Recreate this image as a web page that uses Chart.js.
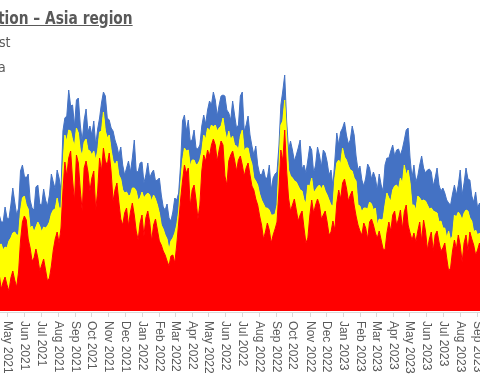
<!DOCTYPE html>
<html>
<head>
<meta charset="utf-8">
<script src="https://cdn.jsdelivr.net/npm/chart.js@4.4.1/dist/chart.umd.min.js"></script>
<style>
    html, body { margin: 0; padding: 0; background: #fff; overflow: hidden; }
    #wrap { position: relative; width: 480px; height: 384px; }
    .judul {
        position: absolute; left: -2px; top: 8px;
        font: bold 17px "Liberation Sans Narrow", "DejaVu Sans Condensed", sans-serif;
        color: #595959; text-decoration: underline; white-space: nowrap;
        transform: scaleX(0.9); transform-origin: left top;
    }
    .leg {
        position: absolute;
        font: 14px "Liberation Sans Narrow", "DejaVu Sans Condensed", sans-serif;
        color: #595959; white-space: nowrap;
    }
</style>
</head>
<body>
<div id="wrap">
    <canvas id="areaAsia"></canvas>
    <div class="judul">tion – Asia region</div>
    <div class="leg" style="left:-1px; top:34px;">st</div>
    <div class="leg" style="left:-2px; top:59px;">a</div>
</div>
<script>
// data per setengah minggu (3.5 hari), mulai 17 Apr 2021 (hari ke -14 dari 1 May 2021)
const redVals = [
    36, 22, 29, 34, 26, 20, 33, 40, 31, 24,
    39, 70, 89, 95, 91, 72, 63, 50, 53, 62,
    53, 40, 46, 52, 41, 30, 33, 45, 61, 72,
    79, 68, 83, 120, 149, 135, 153, 160, 131, 110,
    156, 148, 121, 100, 143, 150, 139, 120, 133, 140,
    101, 120, 153, 140, 163, 150, 146, 158, 139, 110,
    121, 128, 109, 92, 86, 98, 103, 85, 99, 108,
    96, 80, 71, 88, 96, 75, 93, 100, 89, 70,
    86, 92, 81, 70, 66, 60, 56, 50, 45, 55,
    56, 48, 66, 88, 111, 130, 146, 138, 143, 105,
    121, 126, 111, 92, 106, 140, 156, 150, 161, 155,
    166, 172, 166, 150, 161, 170, 166, 135, 126, 150,
    156, 160, 151, 140, 151, 155, 146, 135, 143, 148,
    136, 125, 121, 112, 106, 95, 86, 72, 79, 88,
    81, 68, 76, 82, 89, 120, 161, 150, 181, 140,
    113, 100, 106, 112, 101, 90, 96, 100, 83, 68,
    73, 95, 111, 98, 106, 112, 106, 92, 96, 100,
    89, 76, 79, 90, 81, 108, 121, 112, 128, 132,
    123, 110, 116, 120, 106, 95, 86, 80, 76, 88,
    83, 72, 89, 92, 86, 78, 73, 80, 71, 62,
    61, 78, 89, 80, 96, 100, 86, 92, 101, 82,
    99, 106, 86, 78, 71, 78, 69, 80, 89, 70,
    91, 80, 61, 72, 79, 60, 76, 80, 69, 60,
    63, 68, 53, 40, 43, 60, 71, 62, 76, 66,
    49, 68, 76, 60, 79, 72, 66, 56, 61, 68,
    63
];
const yellowVals = [
    30, 45, 32, 30, 37, 50, 40, 38, 48, 52,
    37, 30, 24, 20, 15, 30, 20, 35, 26, 22,
    36, 45, 33, 32, 42, 55, 56, 52, 40, 30,
    34, 35, 20, 25, 27, 35, 28, 20, 40, 55,
    27, 30, 40, 55, 26, 22, 22, 40, 23, 20,
    50, 40, 26, 40, 36, 30, 27, 18, 22, 40,
    25, 22, 27, 40, 35, 20, 16, 30, 17, 15,
    27, 40, 40, 25, 23, 38, 23, 18, 27, 40,
    30, 20, 25, 28, 20, 22, 20, 22, 16, 15,
    17, 30, 20, 12, 15, 20, 17, 22, 18, 40,
    30, 25, 35, 55, 45, 20, 20, 22, 22, 25,
    20, 12, 20, 30, 22, 15, 27, 45, 45, 30,
    15, 15, 15, 25, 10, 20, 35, 25, 20, 15,
    17, 22, 12, 18, 20, 22, 25, 35, 24, 15,
    20, 28, 20, 15, 17, 25, 25, 40, 30, 35,
    28, 35, 27, 18, 28, 35, 25, 20, 28, 40,
    53, 30, 22, 20, 15, 12, 20, 30, 30, 20,
    27, 35, 27, 15, 52, 40, 30, 35, 35, 22,
    28, 35, 25, 20, 27, 35, 20, 25, 23, 15,
    20, 30, 20, 15, 15, 25, 13, 12, 20, 30,
    45, 40, 24, 30, 25, 25, 40, 30, 32, 45,
    47, 30, 55, 50, 35, 28, 32, 35, 24, 40,
    20, 30, 45, 30, 24, 40, 23, 18, 20, 30,
    20, 15, 20, 40, 28, 15, 25, 32, 23, 30,
    42, 30, 25, 40, 14, 18, 13, 25, 15, 10,
    13
];
const blueVals = [
    30, 22, 28, 40, 30, 22, 33, 45, 30, 20,
    27, 40, 33, 20, 27, 35, 28, 18, 22, 40,
    37, 22, 27, 38, 28, 20, 27, 40, 28, 20,
    28, 30, 18, 35, 17, 25, 40, 25, 35, 20,
    28, 35, 25, 15, 22, 30, 18, 25, 20, 30,
    15, 22, 14, 28, 20, 35, 20, 15, 22, 30,
    25, 15, 20, 32, 25, 18, 24, 35, 23, 30,
    48, 20, 28, 35, 30, 15, 20, 30, 17, 28,
    25, 18, 25, 35, 30, 22, 25, 35, 32, 20,
    26, 35, 25, 18, 20, 40, 33, 20, 30, 25,
    20, 30, 17, 15, 15, 25, 20, 15, 18, 30,
    20, 35, 25, 15, 23, 30, 23, 35, 30, 18,
    20, 35, 30, 18, 25, 40, 38, 20, 23, 32,
    23, 18, 23, 35, 20, 20, 25, 35, 30, 30,
    45, 25, 37, 40, 33, 20, 20, 30, 25, 15,
    20, 35, 28, 20, 27, 38, 50, 22, 35, 30,
    25, 40, 28, 20, 25, 40, 30, 22, 35, 38,
    33, 25, 35, 20, 18, 30, 15, 32, 20, 35,
    25, 22, 30, 45, 43, 25, 35, 40, 32, 22,
    30, 45, 34, 25, 38, 30, 35, 45, 35, 28,
    40, 35, 40, 50, 45, 30, 35, 40, 23, 35,
    25, 45, 42, 25, 27, 40, 28, 20, 33, 45,
    32, 28, 35, 40, 36, 25, 34, 45, 37, 30,
    40, 35, 38, 28, 35, 42, 30, 22, 27, 45,
    25, 30, 42, 32, 38, 25, 30, 38, 27, 30,
    25
];

// label bulan di sumbu x
const monthLabels = [
    'May 2021', 'Jun 2021', 'Jul 2021', 'Aug 2021', 'Sep 2021', 'Oct 2021', 'Nov 2021', 'Dec 2021',
    'Jan 2022', 'Feb 2022', 'Mar 2022', 'Apr 2022', 'May 2022', 'Jun 2022', 'Jul 2022', 'Aug 2022',
    'Sep 2022', 'Oct 2022', 'Nov 2022', 'Dec 2022', 'Jan 2023', 'Feb 2023', 'Mar 2023', 'Apr 2023',
    'May 2023', 'Jun 2023', 'Jul 2023', 'Aug 2023', 'Sep 2023'
];
const namaBulan = ['Jan', 'Feb', 'Mar', 'Apr', 'May', 'Jun', 'Jul', 'Aug', 'Sep', 'Oct', 'Nov', 'Dec'];
const hariAwal = Date.UTC(2021, 4, 1);

function hariKe(label) {
    const p = label.split(' ');
    return (Date.UTC(parseInt(p[1]), namaBulan.indexOf(p[0]), 1) - hariAwal) / 86400000;
}

// posisi x tiap titik (hari ke-)
const hariData = redVals.map(function (v, i) { return -14 + 3.5 * i; });
function toPoints(vals) {
    return vals.map(function (v, i) { return { x: hariData[i], y: v }; });
}

// plugin untuk garis sumbu, tick dan label bulan yang diputar searah jarum jam
const labelBulan = {
    id: 'labelBulan',
    afterDraw(chart) {
        const ctx = chart.ctx;
        const sx = chart.scales.x;
        const yAxis = chart.chartArea.bottom;
        ctx.save();
        ctx.strokeStyle = '#d9d9d9';
        ctx.lineWidth = 1;
        ctx.beginPath();
        ctx.moveTo(chart.chartArea.left, yAxis + 1.5);
        ctx.lineTo(chart.chartArea.right, yAxis + 1.5);
        ctx.stroke();
        ctx.font = '12px "Liberation Sans", Arial, sans-serif';
        ctx.fillStyle = '#595959';
        ctx.textAlign = 'left';
        ctx.textBaseline = 'middle';
        monthLabels.forEach(function (lbl) {
            const px = Math.round(sx.getPixelForValue(hariKe(lbl))) + 0.5;
            ctx.beginPath();
            ctx.moveTo(px, yAxis + 2);
            ctx.lineTo(px, yAxis + 6);
            ctx.stroke();
            ctx.save();
            ctx.translate(px, yAxis + 10);
            ctx.rotate(Math.PI / 2);
            ctx.fillText(lbl, 0, 0);
            ctx.restore();
        });
        ctx.restore();
    }
};

document.addEventListener('DOMContentLoaded', function () {
    const ctx = document.getElementById('areaAsia').getContext('2d');
    new Chart(ctx, {
        type: 'line',
        data: {
            datasets: [
                {
                    data: toPoints(redVals),
                    backgroundColor: '#ff0000',
                    borderColor: '#ff0000',
                    borderWidth: 1,
                    fill: 'origin',
                },
                {
                    data: toPoints(yellowVals),
                    backgroundColor: '#ffff00',
                    borderColor: '#ffff00',
                    borderWidth: 1,
                    fill: '-1',
                },
                {
                    data: toPoints(blueVals),
                    backgroundColor: '#4472c4',
                    borderColor: '#4472c4',
                    borderWidth: 1,
                    fill: '-1',
                },
            ],
        },
        options: {
            responsive: true,
            maintainAspectRatio: false,
            animation: false,
            elements: {
                point: { radius: 0 },
                line: { tension: 0 },
            },
            layout: {
                padding: { left: 0, right: 0, top: 71, bottom: 73 },
            },
            scales: {
                x: { type: 'linear', min: -12.7, max: 858.4, display: false },
                y: { stacked: true, min: 0, max: 240, display: false },
            },
            plugins: {
                legend: { display: false },
                tooltip: { enabled: false },
            },
        },
        plugins: [labelBulan],
    });
});
</script>
</body>
</html>
